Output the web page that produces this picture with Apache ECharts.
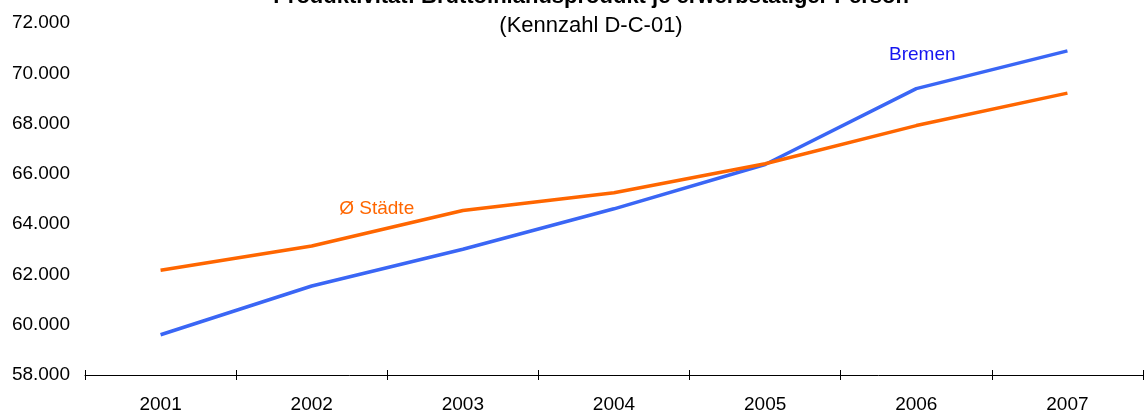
<!DOCTYPE html>
<html>
<head>
<meta charset="utf-8">
<script src="https://cdn.jsdelivr.net/npm/echarts@6/dist/echarts.min.js"></script>
<style>
  html, body { margin: 0; padding: 0; background: #fff; }
  #chart { width: 1146px; height: 414px; }
</style>
</head>
<body>
<div id="chart"></div>
<script>
// Produktivität: BIP je erwerbstätiger Person, Bremen vs. Durchschnitt der Städte
const years = ['2001', '2002', '2003', '2004', '2005', '2006', '2007'];
const bremen = [59600, 61540, 63000, 64610, 66370, 69390, 70890];
const staedte = [62170, 63130, 64540, 65250, 66400, 67920, 69210];
const yMin = 58000;
const yMax = 72000;
const yStep = 2000;

const FONT = '"Liberation Sans", Arial, sans-serif';
const BLUE = '#3A66F5';
const ORANGE = '#FF6600';

function formatDe(v) {
  return String(v).replace(/\B(?=(\d{3})+(?!\d))/g, '.');
}

// label that shows the series name next to one chosen point
function namedPoint(value, offset, color) {
  return {
    value: value,
    label: {
      show: true,
      formatter: '{a}',
      position: 'inside',
      offset: offset,
      color: color,
      fontFamily: FONT,
      fontSize: 19
    }
  };
}

const bremenData = bremen.map((v, i) => i === 5 ? namedPoint(v, [6, -34], '#1515F0') : v);
const staedteData = staedte.map((v, i) => i === 1 ? namedPoint(v, [65, -37], ORANGE) : v);

const chart = echarts.init(document.getElementById('chart'), null, { renderer: 'canvas' });
chart.setOption({
  animation: false,
  backgroundColor: '#fff',
  grid: { left: 85, right: 3, top: 23, bottom: 38 },
  graphic: [
    {
      type: 'text', x: 591, y: -3,
      style: {
        text: 'Produktivität: Bruttoinlandsprodukt je erwerbstätiger Person',
        font: 'bold 22px ' + FONT, fill: '#000',
        align: 'center', verticalAlign: 'middle'
      }
    },
    {
      type: 'text', x: 591, y: 26,
      style: {
        text: '(Kennzahl D-C-01)',
        font: '22px ' + FONT, fill: '#000',
        align: 'center', verticalAlign: 'middle'
      }
    }
  ],
  xAxis: [
    {
      type: 'category',
      data: years,
      boundaryGap: true,
      axisLine: { show: true, lineStyle: { color: '#000', width: 1 } },
      axisTick: { show: true, inside: false, length: 5, lineStyle: { color: '#000' } },
      axisLabel: { color: '#000', fontFamily: FONT, fontSize: 19, margin: 20 },
      splitLine: { show: false }
    },
    {
      type: 'category',
      data: years,
      position: 'bottom',
      boundaryGap: true,
      axisLine: { show: false },
      axisTick: { show: true, inside: true, length: 5, lineStyle: { color: '#000' } },
      axisLabel: { show: false },
      splitLine: { show: false }
    }
  ],
  yAxis: {
    type: 'value',
    min: yMin,
    max: yMax,
    interval: yStep,
    axisLine: { show: false },
    axisTick: { show: false },
    splitLine: { show: false },
    axisLabel: {
      color: '#000', fontFamily: FONT, fontSize: 19, margin: 15,
      formatter: formatDe
    }
  },
  series: [
    {
      name: 'Bremen',
      type: 'line',
      data: bremenData,
      symbol: 'circle',
      symbolSize: 0,
      showSymbol: true,
      lineStyle: { color: BLUE, width: 3.5 },
      itemStyle: { color: BLUE },
      z: 3
    },
    {
      name: 'Ø Städte',
      type: 'line',
      data: staedteData,
      symbol: 'circle',
      symbolSize: 0,
      showSymbol: true,
      lineStyle: { color: ORANGE, width: 3.5 },
      itemStyle: { color: ORANGE },
      z: 4
    }
  ]
});
</script>
</body>
</html>
